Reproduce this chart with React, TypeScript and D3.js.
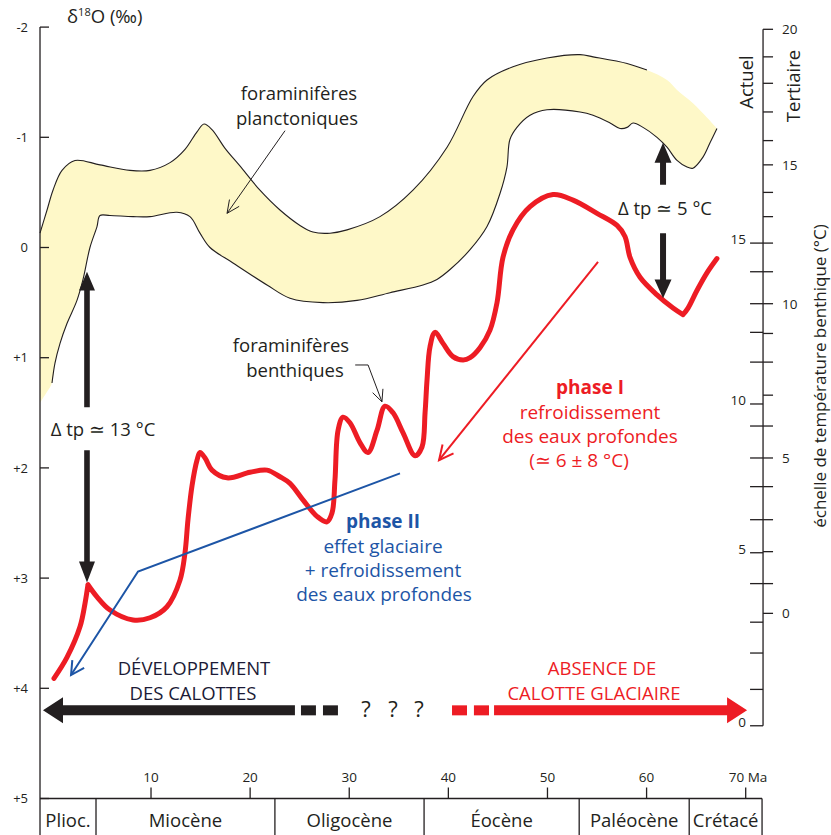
import React from 'react';
import * as d3 from 'd3';

const W = 831;
const H = 835;
const FONT = '"Open Sans", "Noto Sans", sans-serif';
const INK = '#231F20';
const RED = '#ED1C24';
const BLUE = '#1D55A6';
const SAND = '#FEF8C8';
const NAVY = '#1B1A36';

// δ18O axis (‰)
const d18oTicks = [-2, -1, 0, 1, 2, 3, 4, 5];
const d18oTickLabels = ['-2', '-1', '0', '+1', '+2', '+3', '+4', '+5'];

// age axis (Ma)
const ageTicks = [10, 20, 30, 40, 50, 60];
const ageTickLabels = ['10', '20', '30', '40', '50', '60'];
const lastAgeTick = 70;

// stratigraphic column
const epochNames = ['Plioc.', 'Miocène', 'Oligocène', 'Éocène', 'Paléocène', 'Crétacé'];
const epochBounds = [-1.2, 4.45, 22.5, 37.55, 53.2, 64.3, 71.65];

// benthic temperature scales (°C) positioned on the δ18O scale
const rightAxisAge = 71.75;
const tertiaryTemps = [20, 19, 18, 17, 16, 15, 14, 13, 12, 11, 10, 9, 8, 7, 6, 5, 4, 3, 2, 1, 0];
const tertiaryD18O = [-1.98, -1.73, -1.49, -1.23, -0.97, -0.75, -0.5, -0.28, -0.04, 0.22, 0.51, 0.78, 1.04, 1.34, 1.62, 1.91, 2.17, 2.47, 2.76, 3.05, 3.32];
const presentTemps = [15, 14, 13, 12, 11, 10, 9, 8, 7, 6, 5, 4, 3, 2, 1, 0];
const presentD18O = [-0.04, 0.22, 0.51, 0.77, 1.04, 1.42, 1.62, 1.91, 2.17, 2.47, 2.77, 3.05, 3.4, 3.68, 4.01, 4.34];

// planktonic foraminifera envelope: upper edge (young -> old)
const bandTopAge = [-1.2, -0.49, 0.11, 1.02, 2.33, 4.85, 7.88, 9.9, 11.92, 13.43, 14.64, 15.35, 16.15, 17.47, 18.97, 20.99, 23.01, 25.03, 26.34, 28.06, 29.78, 33.1, 36.43, 39.87, 42.49, 43.9, 46.52, 49.95, 53.29, 54.6, 58.03, 60.04, 62.06, 63.07, 64.68, 66.09, 67.1];
const bandTopD18O = [-0.13, -0.34, -0.52, -0.7, -0.79, -0.75, -0.7, -0.7, -0.77, -0.89, -1.05, -1.12, -1.07, -0.9, -0.74, -0.52, -0.34, -0.2, -0.14, -0.13, -0.16, -0.28, -0.52, -0.91, -1.37, -1.52, -1.64, -1.72, -1.75, -1.73, -1.67, -1.61, -1.52, -1.43, -1.31, -1.18, -1.08];
const bandTopOutlineEnd = 60.04;

// planktonic foraminifera envelope: lower edge (old -> young)
const bandBottomAge = [67.1, 66.4, 65.69, 64.68, 64.08, 63.07, 62.06, 61.05, 59.64, 58.63, 58.03, 57.32, 56.31, 54.6, 53.29, 49.95, 48.24, 46.92, 46.21, 45.91, 45.21, 43.9, 42.19, 40.17, 38.85, 37.44, 34.11, 30.78, 27.35, 24.02, 21.7, 18.27, 15.95, 14.94, 13.93, 12.62, 9.9, 8.18, 5.86, 4.85, 4.55, 3.84, 3.14, 2.53, 1.52, 0.82, 0.31, 0.01, -0.49, -1.2];
const bandBottomD18O = [-1.08, -0.95, -0.82, -0.72, -0.73, -0.79, -0.91, -1.0, -1.09, -1.13, -1.09, -1.08, -1.13, -1.2, -1.23, -1.25, -1.2, -1.09, -0.98, -0.73, -0.49, -0.19, 0.02, 0.2, 0.29, 0.34, 0.41, 0.48, 0.5, 0.46, 0.34, 0.14, 0.0, -0.13, -0.28, -0.32, -0.28, -0.28, -0.29, -0.29, -0.19, 0.0, 0.29, 0.48, 0.69, 0.87, 1.05, 1.23, 1.31, 1.41];
const bandBottomOutlineEnd = 0.01;

// benthic foraminifera curve
const benthicAge = [0.21, 1.52, 2.84, 3.34, 3.64, 4.55, 5.86, 8.18, 9.9, 11.61, 12.92, 13.43, 13.73, 14.14, 14.64, 14.94, 15.45, 16.15, 17.67, 19.99, 21.7, 23.01, 24.02, 25.33, 26.75, 27.75, 28.26, 28.56, 28.87, 29.37, 30.07, 31.08, 31.89, 32.8, 33.61, 34.42, 35.42, 36.64, 37.34, 37.65, 37.85, 38.15, 38.65, 39.46, 40.47, 41.48, 42.19, 43.19, 44.2, 44.91, 45.51, 46.52, 48.24, 50.56, 52.58, 55.0, 57.02, 57.82, 58.33, 59.34, 61.05, 62.67, 63.67, 64.18, 65.08, 66.09, 67.1];
const benthicD18O = [3.91, 3.72, 3.44, 3.23, 3.06, 3.17, 3.29, 3.38, 3.36, 3.26, 3.02, 2.77, 2.47, 2.16, 1.93, 1.86, 1.91, 2.02, 2.09, 2.04, 2.02, 2.08, 2.14, 2.29, 2.44, 2.49, 2.41, 2.11, 1.66, 1.54, 1.59, 1.77, 1.86, 1.66, 1.44, 1.5, 1.68, 1.89, 1.81, 1.5, 1.2, 0.9, 0.77, 0.87, 0.99, 1.02, 1.0, 0.91, 0.75, 0.5, 0.09, -0.16, -0.37, -0.48, -0.43, -0.31, -0.2, -0.1, 0.09, 0.27, 0.43, 0.55, 0.61, 0.55, 0.39, 0.23, 0.1];
const benthicCusps = [3.64, 63.67];

// phase II trend (glacial effect) and phase I pointer
const phaseIIAge = [35.12, 8.69, 1.93];
const phaseIID18O = [2.05, 2.94, 3.88];
const phaseIAge = [55.1, 39.06];
const phaseID18O = [0.13, 1.93];

type Pt = [number, number];
const zip = (a: number[], b: number[]): Pt[] => a.map((v, i) => [v, b[i]] as Pt);

function vHead(x1: number, y1: number, x2: number, y2: number, len: number, deg: number) {
  const a = Math.atan2(y2 - y1, x2 - x1);
  const r = (deg * Math.PI) / 180;
  const p1 = [x2 - len * Math.cos(a - r), y2 - len * Math.sin(a - r)];
  const p2 = [x2 - len * Math.cos(a + r), y2 - len * Math.sin(a + r)];
  return `M${p1[0]},${p1[1]}L${x2},${y2}L${p2[0]},${p2[1]}`;
}

function vArrow(cx: number, yTip: number, yBase: number, yEnd: number, hw: number, sw: number) {
  return `M${cx},${yTip}L${cx + hw},${yBase}L${cx + sw},${yBase}L${cx + sw},${yEnd}L${cx - sw},${yEnd}L${cx - sw},${yBase}L${cx - hw},${yBase}Z`;
}

function hArrow(cy: number, xTip: number, xBase: number, xEnd: number, hh: number, sw: number) {
  return `M${xTip},${cy}L${xBase},${cy - hh}L${xBase},${cy - sw}L${xEnd},${cy - sw}L${xEnd},${cy + sw}L${xBase},${cy + sw}L${xBase},${cy + hh}Z`;
}

export default function App() {
  const x = d3.scaleLinear().domain([0, 70]).range([51.9, 745.7]);
  const y = d3.scaleLinear().domain([-2, 5]).range([27.1, 798.5]);
  const axisX = x(epochBounds[0]);
  const rightX = x(rightAxisAge);
  const baseY = y(5);

  const line = d3
    .line<Pt>()
    .x((d) => x(d[0]))
    .y((d) => y(d[1]))
    .curve(d3.curveCatmullRom.alpha(0.5));

  const topPts = zip(bandTopAge, bandTopD18O);
  const botPts = zip(bandBottomAge, bandBottomD18O);
  const bandFill = (line(topPts) as string) + (line(botPts) as string).replace(/^M/, 'L') + 'Z';
  const topOutline = line(topPts.filter((p) => p[0] <= bandTopOutlineEnd)) as string;
  const botOutline = line(botPts.filter((p) => p[0] >= bandBottomOutlineEnd)) as string;

  const benthicPts = zip(benthicAge, benthicD18O);
  const cuts = [0, ...benthicCusps.map((c) => benthicAge.indexOf(c)), benthicPts.length - 1];
  const benthicPath = cuts
    .slice(1)
    .map((c, i) => line(benthicPts.slice(cuts[i], c + 1)))
    .join('');

  const blueLine = d3.line<Pt>().x((d) => x(d[0])).y((d) => y(d[1]))(zip(phaseIIAge, phaseIID18O)) as string;
  const bN = phaseIIAge.length;
  const blueHead = vHead(x(phaseIIAge[bN - 2]), y(phaseIID18O[bN - 2]), x(phaseIIAge[bN - 1]), y(phaseIID18O[bN - 1]), 15, 28);

  const redArrowHead = vHead(x(phaseIAge[0]), y(phaseID18O[0]), x(phaseIAge[1]), y(phaseID18O[1]), 16, 26);

  // leader lines to labels
  const planktonLeader: Pt[] = [[23.52, -1.06], [17.67, -0.31]];
  const benthicLeader: Pt[] = [[30.6, 1.066], [31.9, 1.066], [33.3, 1.4]];
  const straight = d3.line<Pt>().x((d) => x(d[0])).y((d) => y(d[1]));

  // Δ tp arrows
  const a13x = x(3.54);
  const a5x = x(61.66);
  const bigY = y(4.2);

  const txt = { fontFamily: FONT, fill: INK } as const;

  return (
    <svg width={W} height={H} style={{ position: 'absolute', left: 0, top: 0, background: '#fff' }}>
      {/* planktonic envelope */}
      <path d={bandFill} fill={SAND} stroke="none" />
      <path d={topOutline} fill="none" stroke={INK} strokeWidth={1.1} />
      <path d={botOutline} fill="none" stroke={INK} strokeWidth={1.1} />

      {/* left δ18O axis */}
      <line x1={axisX} x2={axisX} y1={y(-2)} y2={H} stroke={INK} strokeWidth={1.3} />
      {d18oTicks.map((t, i) => (
        <g key={t}>
          <line x1={axisX} x2={axisX + 9} y1={y(t)} y2={y(t)} stroke={INK} strokeWidth={1.3} />
          <text x={axisX - 12} y={y(t)} dy="0.36em" textAnchor="end" fontSize={13} {...txt}>
            {d18oTickLabels[i]}
          </text>
        </g>
      ))}
      <text x={67} y={23} fontSize={18.5} {...txt}>
        δ<tspan fontSize={11} dy={-7}>18</tspan>
        <tspan dy={7}>O (‰)</tspan>
      </text>

      {/* stratigraphic column and age ticks */}
      <line x1={axisX} x2={x(epochBounds[epochBounds.length - 1])} y1={baseY} y2={baseY} stroke={INK} strokeWidth={1.3} />
      {epochBounds.slice(1).map((b) => (
        <line key={b} x1={x(b)} x2={x(b)} y1={baseY} y2={H} stroke={INK} strokeWidth={1.3} />
      ))}
      {epochNames.map((n, i) => (
        <text key={n} x={(x(epochBounds[i]) + x(epochBounds[i + 1])) / 2} y={827} textAnchor="middle" fontSize={18.5} {...txt}>
          {n}
        </text>
      ))}
      {[...ageTicks, lastAgeTick].map((t) => (
        <line key={t} x1={x(t)} x2={x(t)} y1={baseY} y2={baseY - 11} stroke={INK} strokeWidth={1.3} />
      ))}
      {ageTicks.map((t, i) => (
        <text key={t} x={x(t)} y={baseY - 17} textAnchor="middle" fontSize={13.5} {...txt}>
          {ageTickLabels[i]}
        </text>
      ))}
      <text x={x(lastAgeTick) - 17} y={baseY - 17} fontSize={13.5} {...txt}>
        {`${lastAgeTick} Ma`}
      </text>

      {/* right temperature axis */}
      <line x1={rightX} x2={rightX} y1={y(tertiaryD18O[0])} y2={y(presentD18O[presentD18O.length - 1])} stroke={INK} strokeWidth={1.3} />
      {tertiaryTemps.map((t, i) => (
        <g key={'t' + t}>
          <line x1={rightX} x2={rightX + 10} y1={y(tertiaryD18O[i])} y2={y(tertiaryD18O[i])} stroke={INK} strokeWidth={1.3} />
          {t % 5 === 0 && (
            <text x={rightX + 19} y={y(tertiaryD18O[i])} dy="0.36em" fontSize={13.5} {...txt}>
              {t}
            </text>
          )}
        </g>
      ))}
      {presentTemps.map((t, i) => (
        <g key={'p' + t}>
          <line x1={rightX - 13} x2={rightX} y1={y(presentD18O[i])} y2={y(presentD18O[i])} stroke={INK} strokeWidth={1.3} />
          {t % 5 === 0 && (
            <text x={rightX - 17} y={y(presentD18O[i])} dy="0.1em" textAnchor="end" fontSize={13.5} {...txt}>
              {t}
            </text>
          )}
        </g>
      ))}
      <text transform="translate(753,82) rotate(-90)" textAnchor="middle" fontSize={18.5} {...txt}>
        Actuel
      </text>
      <text transform="translate(800,86) rotate(-90)" textAnchor="middle" fontSize={18.5} {...txt}>
        Tertiaire
      </text>
      <text transform="translate(826,376) rotate(-90)" textAnchor="middle" fontSize={17} {...txt}>
        échelle de température benthique (°C)
      </text>

      {/* benthic curve */}
      <path d={benthicPath} fill="none" stroke={RED} strokeWidth={5} strokeLinejoin="round" strokeLinecap="round" />

      {/* phase II trend */}
      <path d={blueLine} fill="none" stroke={BLUE} strokeWidth={2} />
      <path d={blueHead} fill="none" stroke={BLUE} strokeWidth={2} />

      {/* phase I pointer */}
      <line x1={x(phaseIAge[0])} y1={y(phaseID18O[0])} x2={x(phaseIAge[1])} y2={y(phaseID18O[1])} stroke={RED} strokeWidth={2} />
      <path d={redArrowHead} fill="none" stroke={RED} strokeWidth={2} />

      {/* labels with leaders */}
      <text x={299} y={100} textAnchor="middle" fontSize={18.5} {...txt}>foraminifères</text>
      <text x={297} y={125} textAnchor="middle" fontSize={18.5} {...txt}>planctoniques</text>
      <path d={straight(planktonLeader) as string} fill="none" stroke={INK} strokeWidth={1} />
      <path
        d={vHead(x(planktonLeader[0][0]), y(planktonLeader[0][1]), x(planktonLeader[1][0]), y(planktonLeader[1][1]), 14, 25)}
        fill="none"
        stroke={INK}
        strokeWidth={1}
      />
      <text x={291} y={352} textAnchor="middle" fontSize={18.5} {...txt}>foraminifères</text>
      <text x={295} y={377} textAnchor="middle" fontSize={18.5} {...txt}>benthiques</text>
      <path d={straight(benthicLeader) as string} fill="none" stroke={INK} strokeWidth={1} />
      <path
        d={vHead(x(benthicLeader[1][0]), y(benthicLeader[1][1]), x(benthicLeader[2][0]), y(benthicLeader[2][1]), 13, 25)}
        fill="none"
        stroke={INK}
        strokeWidth={1}
      />

      {/* Δ tp arrows */}
      <path d={vArrow(a13x, y(0.22), y(0.39), y(1.45), 8, 2.8)} fill={INK} />
      <path d={vArrow(a13x, y(3.04), y(2.85), y(1.84), 8, 2.8)} fill={INK} />
      <text x={103} y={436} textAnchor="middle" fontSize={18.5} {...txt}>Δ tp ≃ 13 °C</text>
      <path d={vArrow(a5x, y(-0.95), y(-0.77), y(-0.57), 8.5, 3)} fill={INK} />
      <path d={vArrow(a5x, y(0.46), y(0.29), y(-0.13), 8.5, 3)} fill={INK} />
      <text x={665} y={215} textAnchor="middle" fontSize={18.5} {...txt}>Δ tp ≃ 5 °C</text>

      {/* phase I */}
      <g fontFamily={FONT} fill={RED} fontSize={19} textAnchor="middle">
        <text x={590} y={394} fontWeight="bold">phase I</text>
        <text x={590} y={419}>refroidissement</text>
        <text x={590} y={443}>des eaux profondes</text>
        <text x={579} y={467}>(≃ 6 ± 8 °C)</text>
      </g>

      {/* phase II */}
      <g fontFamily={FONT} fill={BLUE} fontSize={19} textAnchor="middle">
        <text x={383} y={528} fontWeight="bold">phase II</text>
        <text x={383} y={553}>effet glaciaire</text>
        <text x={383} y={577}>+ refroidissement</text>
        <text x={384} y={601}>des eaux profondes</text>
      </g>

      {/* ice-sheet arrows */}
      <text x={194} y={675} textAnchor="middle" fontSize={18.5} fontFamily={FONT} fill={NAVY}>DÉVELOPPEMENT</text>
      <text x={193} y={700} textAnchor="middle" fontSize={18.5} fontFamily={FONT} fill={NAVY}>DES CALOTTES</text>
      <path d={hArrow(bigY, x(-0.9), x(1.12), x(24.52), 13, 5)} fill={INK} />
      <rect x={x(25.13)} y={bigY - 5} width={x(26.64) - x(25.13)} height={10} fill={INK} />
      <rect x={x(27.35)} y={bigY - 5} width={x(28.86) - x(27.35)} height={10} fill={INK} />
      {[366, 393, 419].map((qx) => (
        <text key={qx} x={qx} y={717} textAnchor="middle" fontSize={22} {...txt}>?</text>
      ))}
      <rect x={x(40.37)} y={bigY - 5} width={x(41.88) - x(40.37)} height={10} fill={RED} />
      <rect x={x(42.58)} y={bigY - 5} width={x(44.1) - x(42.58)} height={10} fill={RED} />
      <path d={hArrow(bigY, x(70.14), x(68.12), x(44.61), 13, 5)} fill={RED} />
      <text x={602} y={675} textAnchor="middle" fontSize={18.5} fontFamily={FONT} fill={RED}>ABSENCE DE</text>
      <text x={594} y={700} textAnchor="middle" fontSize={18.5} fontFamily={FONT} fill={RED}>CALOTTE GLACIAIRE</text>
    </svg>
  );
}
